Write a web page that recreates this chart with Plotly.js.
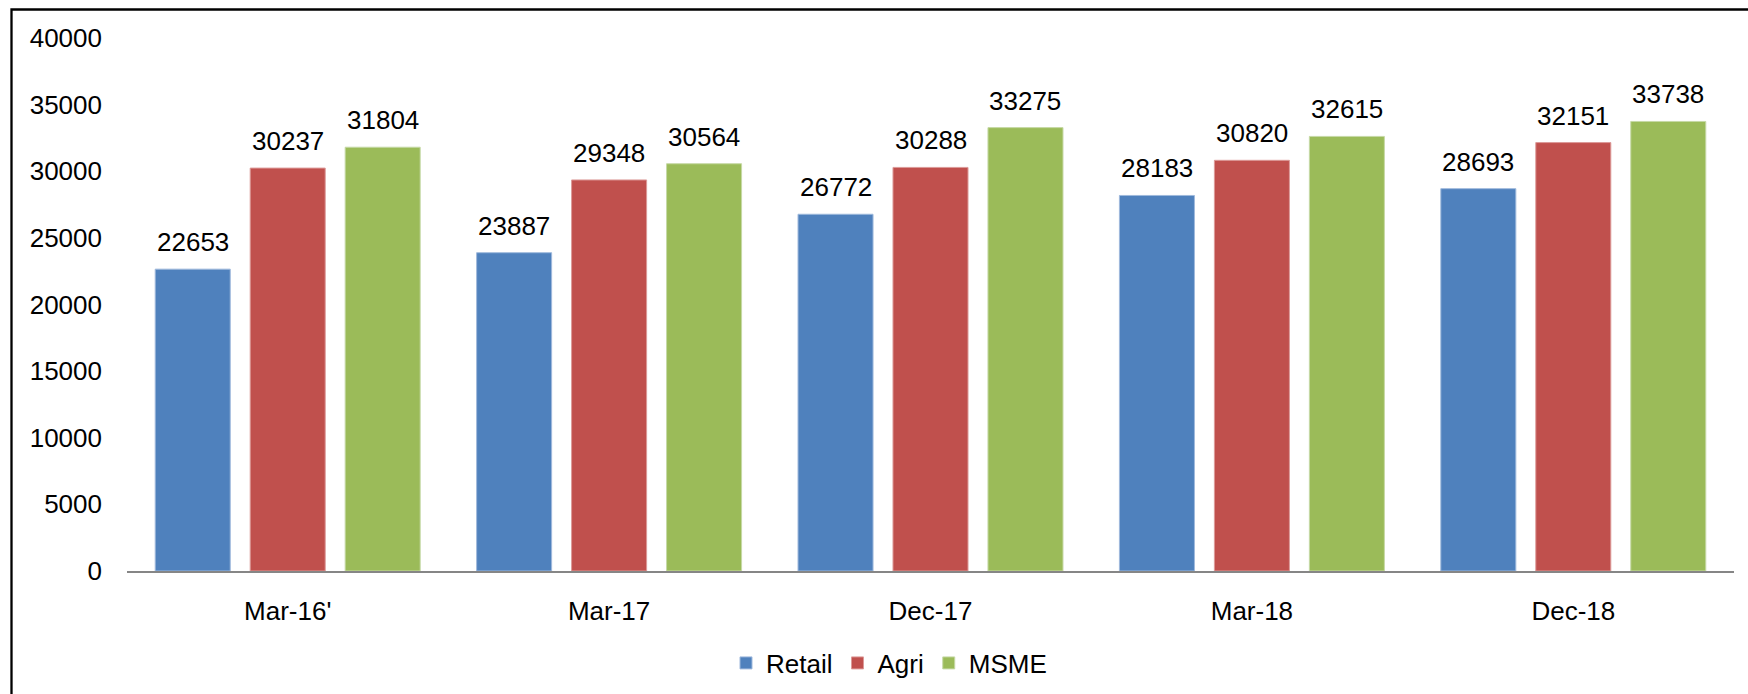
<!DOCTYPE html>
<html>
<head>
<meta charset="utf-8">
<script src="https://cdn.plot.ly/plotly-3.0.1.min.js"></script>
<style>
  html, body { margin: 0; padding: 0; background: #ffffff; }
  #chart { width: 1748px; height: 694px; }
</style>
</head>
<body>
<div id="chart"></div>
<script>
// ---- data ----
const categories = ["Mar-16'", "Mar-17", "Dec-17", "Mar-18", "Dec-18"];
const retail = [22653, 23887, 26772, 28183, 28693];
const agri   = [30237, 29348, 30288, 30820, 32151];
const msme   = [31804, 30564, 33275, 32615, 33738];
const seriesNames = ["Retail", "Agri", "MSME"];
const yTickVals = [0, 5000, 10000, 15000, 20000, 25000, 30000, 35000, 40000];

// ---- style ----
const colors = ["#4F81BD", "#C0504D", "#9BBB59"];
const edgeColors = ["#9fb9dc", "#dc9a98", "#c6d9a6"];
const FONT = "'Century Gothic', 'Liberation Sans', Arial, sans-serif";
const FS = 26;

const W = 1748, H = 694;
const margin = { l: 127, r: 14, t: 38, b: 123, autoexpand: false };
const bargap = 0.1135;
const bargroupgap = 0.21;

const seriesValues = [retail, agri, msme];

const traces = seriesValues.map((vals, i) => ({
  type: "bar",
  name: seriesNames[i],
  x: categories,
  y: vals,
  marker: { color: colors[i], line: { color: edgeColors[i], width: 1 } },
  hoverinfo: "x+y+name"
}));

// value labels as annotations, shifted to each bar's slot
const plotW = W - margin.l - margin.r;
const slotPx = plotW / categories.length * (1 - bargap) / seriesValues.length;
const annotations = [];
seriesValues.forEach((vals, i) => {
  vals.forEach((v, j) => {
    annotations.push({
      x: categories[j], y: v, xref: "x", yref: "y",
      text: String(v), showarrow: false,
      xanchor: "center", yanchor: "bottom",
      xshift: (i - (seriesValues.length - 1) / 2) * slotPx,
      yshift: 10,
      font: { family: FONT, size: FS, color: "#000000" }
    });
  });
});

const plotH = H - margin.t - margin.b;
function pxToPaperX(px) { return (px - margin.l) / plotW; }
function pxToPaperY(py) { return (H - margin.b - py) / plotH; }

const layout = {
  width: W, height: H,
  margin: margin,
  paper_bgcolor: "#ffffff",
  plot_bgcolor: "#ffffff",
  barmode: "group",
  bargap: bargap,
  bargroupgap: bargroupgap,
  font: { family: FONT, size: FS, color: "#000000" },
  showlegend: true,
  legend: {
    orientation: "h",
    x: pxToPaperX(889), xanchor: "center",
    y: pxToPaperY(663), yanchor: "middle",
    font: { family: FONT, size: FS, color: "#000000" },
    bgcolor: "rgba(0,0,0,0)",
    itemclick: false, itemdoubleclick: false,
    tracegroupgap: 0
  },
  xaxis: {
    type: "category",
    showline: true, linecolor: "#868686", linewidth: 2,
    showgrid: false, zeroline: false,
    ticks: "",
    ticklabelstandoff: 16,
    tickfont: { family: FONT, size: FS, color: "#000000" },
    fixedrange: true
  },
  yaxis: {
    range: [0, 40000],
    tickmode: "array",
    tickvals: yTickVals,
    ticktext: yTickVals.map(String),
    showline: false, showgrid: false, zeroline: false,
    ticks: "",
    ticklabelstandoff: 24,
    tickfont: { family: FONT, size: FS, color: "#000000" },
    fixedrange: true
  },
  annotations: annotations,
  shapes: [{
    type: "rect", xref: "paper", yref: "paper",
    x0: pxToPaperX(11.5), x1: pxToPaperX(W + 20),
    y0: pxToPaperY(H + 20), y1: pxToPaperY(9.5),
    line: { color: "#000000", width: 2.3 },
    fillcolor: "rgba(0,0,0,0)",
    layer: "below"
  }]
};

Plotly.newPlot("chart", traces, layout, { displayModeBar: false, staticPlot: false, responsive: false });
</script>
</body>
</html>
